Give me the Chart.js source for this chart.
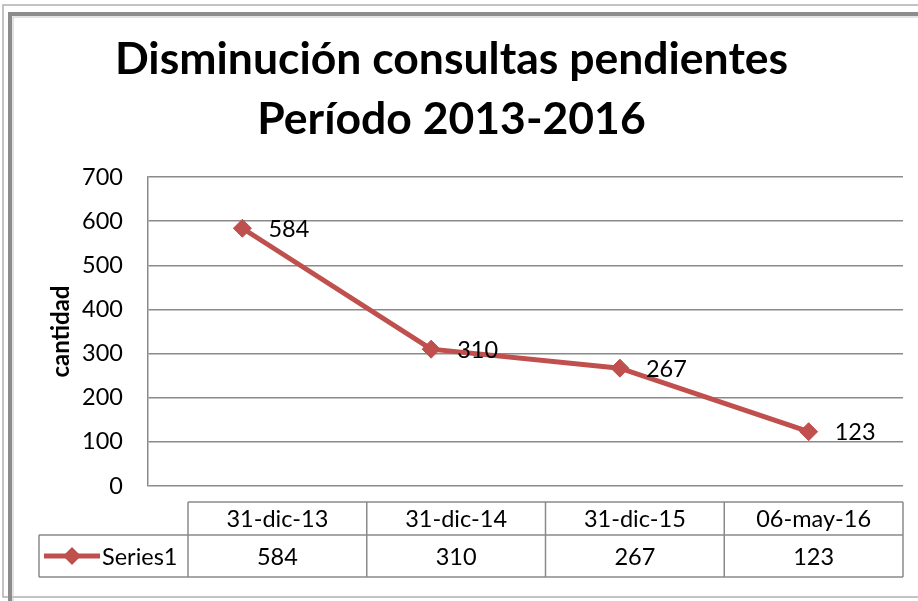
<!DOCTYPE html>
<html>
<head>
<meta charset="utf-8">
<script src="https://cdn.jsdelivr.net/npm/chart.js@4"></script>
<style>
  html, body { margin: 0; padding: 0; background: #fff; }
  #wrap { width: 918px; height: 601px; }
</style>
</head>
<body>
<div id="wrap"><canvas id="c" width="918" height="601"></canvas></div>
<script>
const titleLines = ['Disminución consultas pendientes', 'Período 2013-2016'];
const categories = ['31-dic-13', '31-dic-14', '31-dic-15', '06-may-16'];
const seriesName = 'Series1';
const values = [584, 310, 267, 123];
const yTicks = [0, 100, 200, 300, 400, 500, 600, 700];
const yTitle = 'cantidad';

const RED = '#C0504D';
const GRID = '#8a8a8a';
const FONT = 'Lato, "Open Sans", sans-serif';
const TXT = 23.5;

const framePlugin = {
  id: 'frame',
  beforeDraw(chart) {
    const ctx = chart.ctx;
    ctx.save();
    ctx.fillStyle = '#fff';
    ctx.fillRect(0, 0, chart.width, chart.height);
    ctx.strokeStyle = '#b0b0b0';
    ctx.lineWidth = 1.5;
    ctx.strokeRect(3, 5, 940, 592);
    ctx.strokeStyle = '#8c8c8c';
    ctx.lineWidth = 4;
    ctx.strokeRect(10, 14, 940, 600);
    ctx.strokeStyle = '#c8c8c8';
    ctx.lineWidth = 1;
    ctx.strokeRect(13, 17, 940, 600);
    ctx.restore();
  }
};

const labelPlugin = {
  id: 'dataLabels',
  afterDatasetsDraw(chart) {
    const ctx = chart.ctx;
    const meta = chart.getDatasetMeta(0);
    ctx.save();
    ctx.font = TXT + 'px ' + FONT;
    ctx.fillStyle = '#000';
    ctx.textAlign = 'left';
    ctx.textBaseline = 'middle';
    meta.data.forEach((pt, i) => {
      ctx.fillText(String(values[i]), pt.x + 26, pt.y + 1);
    });
    ctx.restore();
  }
};

const tablePlugin = {
  id: 'dataTable',
  afterDraw(chart) {
    const ctx = chart.ctx;
    const a = chart.chartArea;
    const tLeft = a.left + 40;
    const tRight = a.right;
    const n = categories.length;
    const colW = (tRight - tLeft) / n;
    const yTop = a.bottom + 16;
    const yMid = a.bottom + 49;
    const yBot = a.bottom + 91;
    const legLeft = 39;
    ctx.save();
    ctx.strokeStyle = GRID;
    ctx.lineWidth = 1.5;
    ctx.beginPath();
    ctx.moveTo(tLeft, yTop); ctx.lineTo(tRight, yTop);
    ctx.moveTo(legLeft, yMid); ctx.lineTo(tRight, yMid);
    ctx.moveTo(legLeft, yBot); ctx.lineTo(tRight, yBot);
    ctx.moveTo(legLeft, yMid); ctx.lineTo(legLeft, yBot);
    for (let i = 0; i <= n; i++) {
      const x = tLeft + colW * i;
      ctx.moveTo(x, yTop); ctx.lineTo(x, yBot);
    }
    ctx.stroke();

    ctx.font = TXT + 'px ' + FONT;
    ctx.fillStyle = '#000';
    ctx.textAlign = 'center';
    ctx.textBaseline = 'middle';
    for (let i = 0; i < n; i++) {
      const cx = tLeft + colW * (i + 0.5);
      ctx.fillText(categories[i], cx, (yTop + yMid) / 2 + 1);
      ctx.fillText(String(values[i]), cx, (yMid + yBot) / 2 + 1);
    }
    const ly = (yMid + yBot) / 2;
    ctx.strokeStyle = RED;
    ctx.lineWidth = 5;
    ctx.beginPath();
    ctx.moveTo(44, ly); ctx.lineTo(100, ly);
    ctx.stroke();
    ctx.fillStyle = RED;
    ctx.beginPath();
    ctx.moveTo(72, ly - 9); ctx.lineTo(81, ly); ctx.lineTo(72, ly + 9); ctx.lineTo(63, ly);
    ctx.closePath();
    ctx.fill();
    ctx.fillStyle = '#000';
    ctx.textAlign = 'left';
    ctx.fillText(seriesName, 102, ly + 1);
    ctx.restore();
  }
};

new Chart(document.getElementById('c'), {
  type: 'line',
  data: {
    labels: categories,
    datasets: [{
      label: seriesName,
      data: values,
      borderColor: RED,
      backgroundColor: RED,
      borderWidth: 5,
      pointStyle: 'rectRot',
      pointRadius: 9,
      pointHoverRadius: 9,
      pointBackgroundColor: RED,
      pointBorderColor: RED,
      pointBorderWidth: 1,
      tension: 0
    }]
  },
  options: {
    responsive: false,
    animation: false,
    events: [],
    layout: { padding: { left: 0, right: 15, top: 0, bottom: 115 } },
    plugins: {
      legend: { display: false },
      tooltip: { enabled: false },
      title: {
        display: true,
        text: titleLines,
        color: '#000',
        font: { family: FONT, size: 44.5, weight: 'bold', lineHeight: 1.36 },
        padding: { top: 29, bottom: 27 }
      }
    },
    scales: {
      x: {
        type: 'category',
        display: false,
        offset: true
      },
      y: {
        min: 0,
        max: 700,
        afterFit(scale) { scale.width = 148; },
        afterBuildTicks(scale) { scale.ticks = yTicks.map(v => ({ value: v })); },
        ticks: {
          color: '#000',
          font: { family: FONT, size: TXT },
          padding: 25
        },
        grid: { color: GRID, lineWidth: 1.5, drawTicks: false },
        border: { display: true, color: GRID, width: 1.5 },
        title: {
          display: true,
          text: yTitle,
          color: '#000',
          font: { family: FONT, size: 24, weight: 'bold' },
          padding: { top: 47, bottom: 0 }
        }
      }
    }
  },
  plugins: [framePlugin, labelPlugin, tablePlugin]
});
</script>
</body>
</html>
